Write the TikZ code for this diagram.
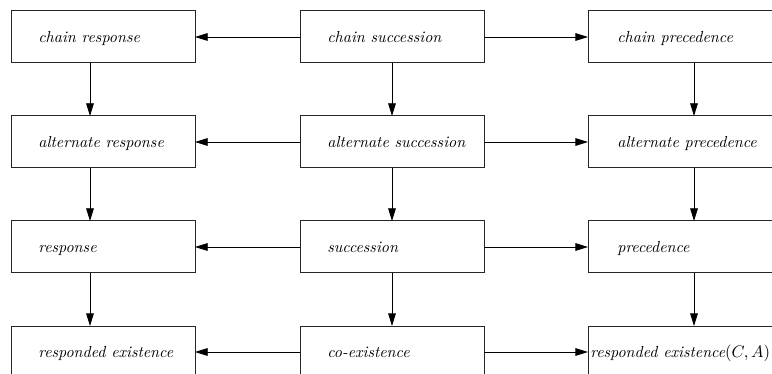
\documentclass[tikz,border=0pt]{standalone}
\usetikzlibrary{arrows.meta}
\begin{document}
\begin{tikzpicture}[x=0.6pt,y=-0.6pt,
  box/.style={draw=black!85, line width=0.6pt, minimum width=110.4pt,
    minimum height=31.2pt, inner sep=0pt, outer sep=0pt, anchor=north west},
  lbl/.style={anchor=base west, inner sep=0pt, yshift=-3.5pt,
    font=\fontsize{9.6}{12}\selectfont\itshape},
  arr/.style={-{Triangle[length=7.6pt,width=4.6pt]}, line width=0.5pt}]
\useasboundingbox (0,0) rectangle (772,374);
\clip (0,0) rectangle (772,374);

% boxes, one row per level
\node[box] (cr) at (11,11) {};
\node[box] (cs) at (300,11) {};
\node[box] (cp) at (588,11) {};
\node[box] (ar) at (11,116) {};
\node[box] (as) at (300,116) {};
\node[box] (ap) at (588,116) {};
\node[box] (r) at (11,221) {};
\node[box] (s) at (300,221) {};
\node[box] (p) at (588,221) {};
\node[box] (re) at (11,326) {};
\node[box] (ce) at (300,326) {};
\node[box] (rp) at (588,326) {};

% labels, on a common baseline inside each box
\node[lbl] (crt) at ([xshift=16.2pt]cr.west) {chain response};
\node[lbl] (cst) at ([xshift=16.2pt]cs.west) {chain succession};
\node[lbl] (cpt) at ([xshift=17.4pt]cp.west) {chain precedence};
\node[lbl] (art) at ([xshift=16.2pt]ar.west) {alternate response};
\node[lbl] (ast) at ([xshift=16.2pt]as.west) {alternate succession};
\node[lbl] (apt) at ([xshift=17.4pt]ap.west) {alternate precedence};
\node[lbl] (rt) at ([xshift=16.2pt]r.west) {response};
\node[lbl] (st) at ([xshift=16.2pt]s.west) {succession};
\node[lbl] (pt) at ([xshift=17.4pt]p.west) {precedence};
\node[lbl] (ret) at ([xshift=16.2pt]re.west) {responded existence};
\node[lbl] (cet) at ([xshift=16.2pt]ce.west) {co-existence};
\node[lbl] (rpt) at ([xshift=1.2pt]rp.west) {responded existence$(C,A)$};

% horizontal arrows from the middle column outwards
\foreach \m/\l/\rr in {cs/cr/cp, as/ar/ap, s/r/p, ce/re/rp}{
  \draw[arr] (\m.west) -- (\l.east);
  \draw[arr] (\m.east) -- (\rr.west);
}

% vertical arrows down each column
\foreach \a/\b in {cr/ar, ar/r, r/re}
  \draw[arr] ([xshift=47.4pt]\a.south west) -- ([xshift=47.4pt]\b.north west);
\foreach \a/\b in {cs/as, as/s, s/ce}
  \draw[arr] ([xshift=55.2pt]\a.south west) -- ([xshift=55.2pt]\b.north west);
\foreach \a/\b in {cp/ap, ap/p, p/rp}
  \draw[arr] ([xshift=63.6pt]\a.south west) -- ([xshift=63.6pt]\b.north west);
\end{tikzpicture}
\end{document}
